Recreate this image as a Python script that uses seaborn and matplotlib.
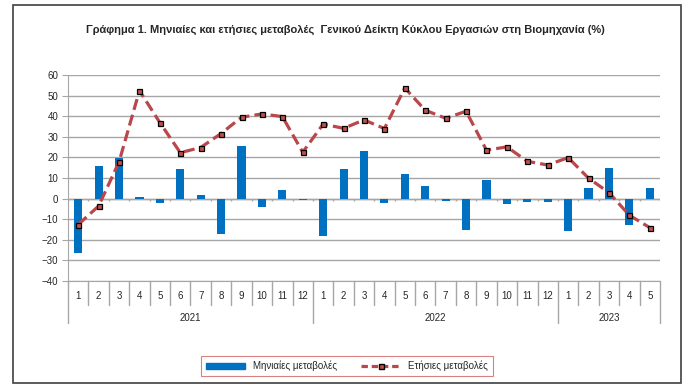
from matplotlib import pyplot as plt
from matplotlib.patches import Patch, Rectangle
from matplotlib.lines import Line2D
import seaborn as sns
import numpy as np

# Monthly and annual change (%) of the general turnover index in industry
months = ["1", "2", "3", "4", "5", "6", "7", "8", "9", "10", "11", "12",
          "1", "2", "3", "4", "5", "6", "7", "8", "9", "10", "11", "12",
          "1", "2", "3", "4", "5"]
years = ["2021", "2022", "2023"]
year_counts = [12, 12, 5]
monthly_change = [-26.4, 16.0, 19.7, 0.8, -2.1, 14.2, 1.6, -17.2, 25.4, -4.0, 4.0, -0.5,
                  -18.1, 14.2, 23.0, -2.1, 12.1, 6.0, -1.1, -15.2, 8.9, -2.8, -1.6, -1.6,
                  -15.7, 5.0, 14.7, -12.8, 5.0]
annual_change = [-12.6, -3.6, 17.8, 52.4, 36.9, 22.3, 24.8, 31.6, 39.5, 41.1, 39.8, 22.5,
                 36.2, 34.1, 38.2, 34.0, 53.7, 42.9, 39.0, 42.4, 23.5, 25.1, 18.1, 16.3,
                 19.9, 9.9, 2.9, -8.1, -14.1]

bar_color = "#0070C0"
line_color = "#B9474B"
grid_color = "#A6A6A6"

sns.set_style("white")
plt.rcParams["font.family"] = ["Liberation Sans", "DejaVu Sans"]

fig = plt.figure(figsize=(6.97, 3.88), dpi=100)
ax = fig.add_axes([68 / 697, 1 - 281 / 388, 592 / 697, 206 / 388])

idx = np.arange(len(months))
sns.barplot(x=idx, y=monthly_change, color=bar_color, width=0.4, saturation=1,
            linewidth=0, ax=ax, zorder=3)
sns.lineplot(x=idx, y=annual_change, ax=ax, color=line_color, lw=2.3,
             linestyle=(0, (3.5, 1.6)), marker="s", markersize=3.6,
             markerfacecolor="#C0504D", markeredgecolor="black", markeredgewidth=0.9, zorder=4)

ax.set_xlim(-0.5, len(months) - 0.5)
ax.set_ylim(-40, 60)
ax.set_yticks(range(-40, 61, 10))
ax.yaxis.grid(True, color=grid_color, lw=1)
ax.set_axisbelow(True)
for s in ["top", "right"]:
    ax.spines[s].set_visible(False)
ax.spines["left"].set_color(grid_color)
ax.spines["bottom"].set_color(grid_color)
ax.tick_params(axis="y", length=4, color=grid_color, labelsize=7, pad=3, left=True)
ax.set_xticks([])
ax.set_xlabel("")
ax.set_ylabel("")

# small ticks on the zero line
bounds = np.arange(-0.5, len(months), 1)
ax.vlines(bounds, -1.3, 0, color=grid_color, lw=1, zorder=2)
ax.axhline(0, color=grid_color, lw=1, zorder=2)

# two-level category axis
year_edges = np.concatenate([[0], np.cumsum(year_counts)]) - 0.5
for b in bounds:
    long = b in year_edges
    ax.plot([b, b], [-40, -60.5 if long else -51.8], color=grid_color, lw=1, clip_on=False)
for i, m in enumerate(months):
    ax.text(i, -47.5, m, ha="center", va="center", fontsize=7, clip_on=False)
for k, y in enumerate(years):
    ax.text((year_edges[k] + year_edges[k + 1]) / 2, -58, y, ha="center", va="center",
            fontsize=7, clip_on=False)

fig.text(345 / 697, 1 - 30 / 388,
         "Γράφημα 1. Μηνιαίες και ετήσιες μεταβολές  Γενικού Δείκτη Κύκλου Εργασιών στη Βιομηχανία (%)",
         ha="center", va="center", fontsize=8, fontweight="bold")

handles = [Patch(facecolor=bar_color, edgecolor=bar_color),
           Line2D([0], [0], color=line_color, lw=2.3, linestyle=(0, (2, 1.2)), marker="s",
                  markersize=3.6, markerfacecolor="#C0504D", markeredgecolor="black")]
leg = fig.legend(handles, ["Μηνιαίες μεταβολές", "Ετήσιες μεταβολές"], loc="center",
                 bbox_to_anchor=(347 / 697, 1 - 366 / 388), ncol=2, fontsize=7,
                 frameon=True, fancybox=False, handlelength=4, handleheight=0.6,
                 columnspacing=2.5, borderpad=0.5)
leg.get_frame().set_edgecolor("#D06060")
leg.get_frame().set_linewidth(0.8)

fig.patches.append(Rectangle((13 / 697, 5 / 388), 668 / 697, 378 / 388,
                             transform=fig.transFigure, fill=False, edgecolor="#404040", lw=1.2))

fig.savefig("out.png", dpi=100)
